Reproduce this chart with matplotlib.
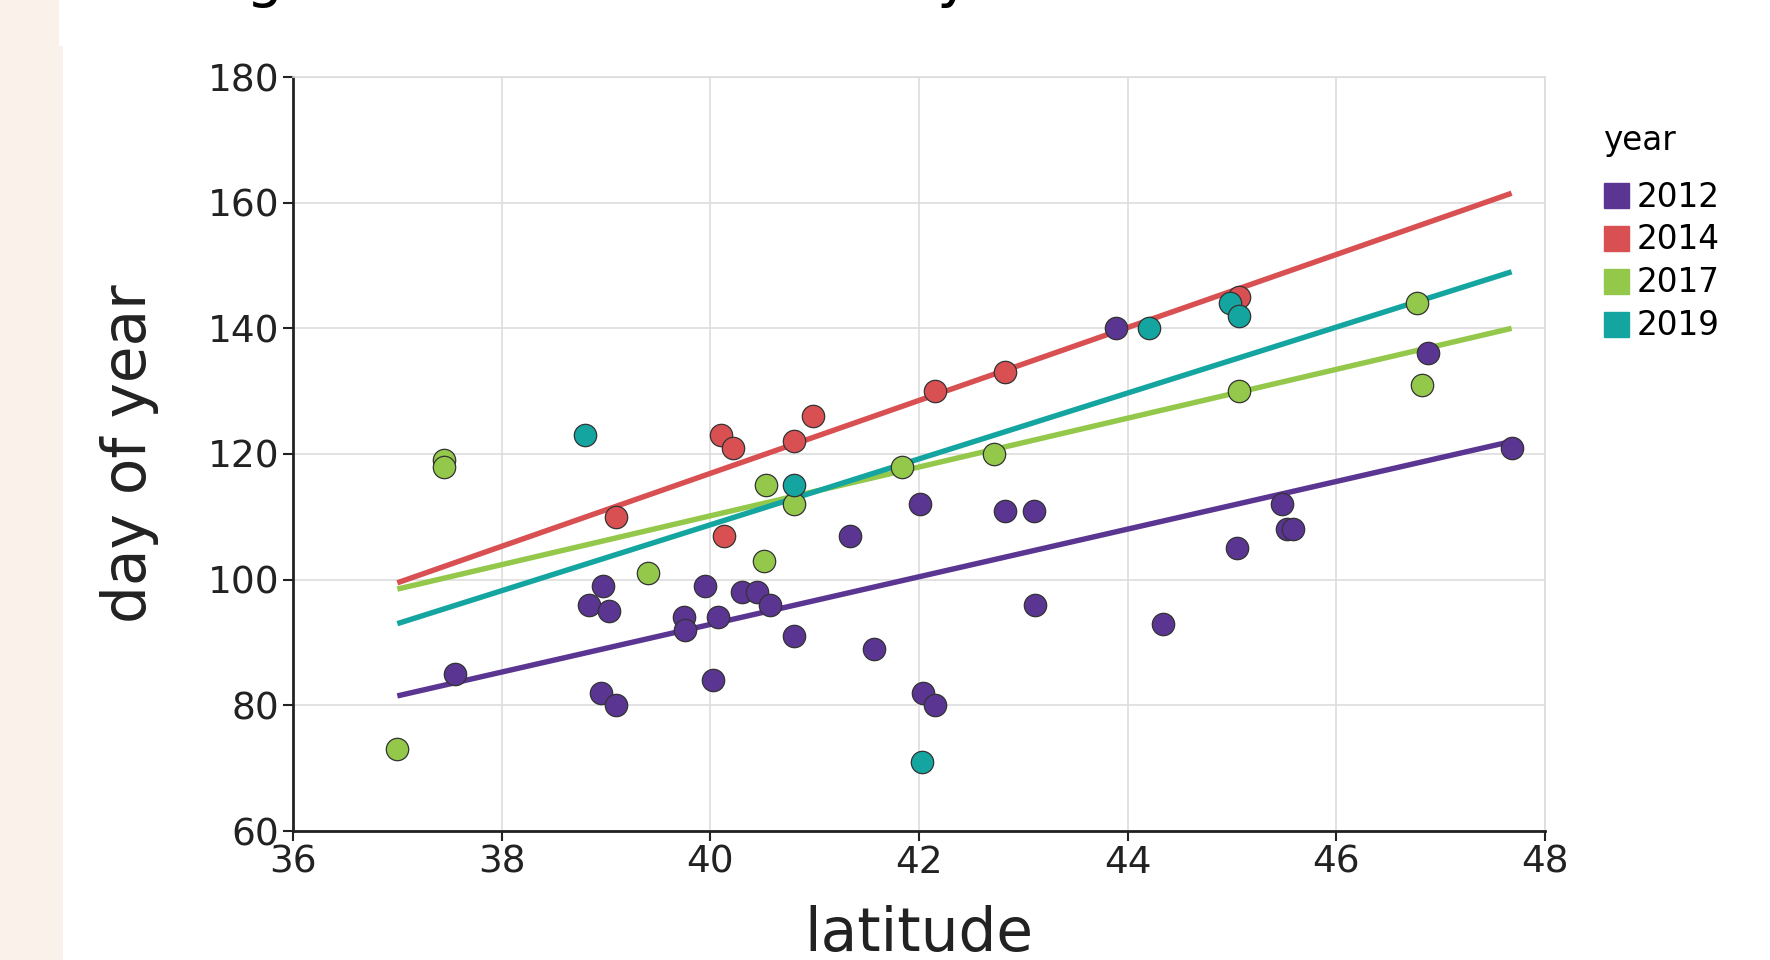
import matplotlib
matplotlib.use("Agg")
import matplotlib.pyplot as plt
from matplotlib.lines import Line2D
from matplotlib.patches import Rectangle

# ------------------------------
# Data
# ------------------------------
years = ["2012", "2014", "2017", "2019"]
colors = ["#5b3592", "#d95052", "#93c84b", "#15a5a0"]

lat_2012 = [37.55, 38.84, 38.97, 39.03, 38.95, 39.10, 39.75, 39.76, 39.95, 40.07,
            40.03, 40.30, 40.45, 40.57, 40.80, 41.34, 41.57, 42.01, 42.04, 42.15,
            42.82, 43.10, 43.11, 43.89, 44.34, 45.05, 45.48, 45.53, 45.58, 46.88, 47.68]
doy_2012 = [85, 96, 99, 95, 82, 80, 94, 92, 99, 94,
            84, 98, 98, 96, 91, 107, 89, 112, 82, 80,
            111, 111, 96, 140, 93, 105, 112, 108, 108, 136, 121]

lat_2014 = [39.10, 40.10, 40.22, 40.13, 40.80, 40.98, 42.15, 42.82, 45.07]
doy_2014 = [110, 123, 121, 107, 122, 126, 130, 133, 145]

lat_2017 = [37.00, 37.45, 37.45, 39.40, 40.53, 40.80, 40.51, 41.84, 42.72, 45.07, 46.77, 46.82]
doy_2017 = [73, 119, 118, 101, 115, 112, 103, 118, 120, 130, 144, 131]

lat_2019 = [38.80, 40.80, 42.03, 44.20, 44.98, 45.07]
doy_2019 = [123, 115, 71, 140, 144, 142]

# regression lines: value at the ends of the latitude range
fit_lat = [37.0, 47.68]
fit_2012 = [81.5, 122.0]
fit_2014 = [99.5, 161.5]
fit_2017 = [98.5, 140.0]
fit_2019 = [93.0, 149.0]

lats = [lat_2012, lat_2014, lat_2017, lat_2019]
doys = [doy_2012, doy_2014, doy_2017, doy_2019]
fits = [fit_2012, fit_2014, fit_2017, fit_2019]

x_ticks = [36, 38, 40, 42, 44, 46, 48]
y_ticks = [60, 80, 100, 120, 140, 160, 180]

# ------------------------------
# Figure
# ------------------------------
fig = plt.figure(figsize=(17.7, 9.6), dpi=100)
fig.patch.set_facecolor("white")

# beige strip on the left edge
fig.patches.append(Rectangle((0, 0), 63 / 1770, 1, transform=fig.transFigure,
                             facecolor="#faf1eb", edgecolor="none", zorder=0))
fig.patches.append(Rectangle((59 / 1770, 1 - 46 / 960), 4 / 1770, 46 / 960,
                             transform=fig.transFigure, facecolor="white",
                             edgecolor="none", zorder=0))

# title sits above the canvas, only descenders show
fig.text(60 / 1770, 1 + 4 / 960, "Nesting date across latitude by site",
         fontsize=42, color="black", ha="left", va="baseline")

ax = fig.add_axes([293 / 1770, 1 - 831 / 960, (1545 - 293) / 1770, (831 - 77) / 960])

for i in range(len(years)):
    ax.plot(fit_lat, fits[i], color=colors[i], lw=3.9, zorder=2,
            solid_capstyle="butt")

for i in range(len(years)):
    ax.scatter(lats[i], doys[i], s=260, color=colors[i], edgecolor="#333333",
               linewidth=0.9, zorder=3)

ax.set_xlim(36, 48)
ax.set_ylim(60, 180)
ax.set_xticks(x_ticks)
ax.set_yticks(y_ticks)
ax.grid(True, color="#dddddd", lw=1.2)
ax.set_axisbelow(True)

for side in ["top", "right"]:
    ax.spines[side].set_color("#dddddd")
    ax.spines[side].set_linewidth(1.2)
for side in ["left", "bottom"]:
    ax.spines[side].set_color("#222222")
    ax.spines[side].set_linewidth(2)

ax.tick_params(axis="both", labelsize=27, labelcolor="#222222", color="#222222",
               length=7, width=1.5, pad=3)

ax.set_xlabel("latitude", fontsize=43, color="#222222", labelpad=17)
ax.set_ylabel("day of year", fontsize=43, color="#222222", labelpad=35)

# ------------------------------
# Legend
# ------------------------------
handles = [Line2D([], [], marker="s", ls="none", markersize=18,
                  markerfacecolor=c, markeredgecolor=c) for c in colors]
leg = ax.legend(handles, years, title="year", loc="upper left",
                bbox_to_anchor=(1604 / 1770, 1 - 124 / 960),
                bbox_transform=fig.transFigure, frameon=False,
                fontsize=23.5, title_fontsize=23.5, alignment="left",
                handlelength=0.75, handletextpad=0.25, labelspacing=0.3,
                borderpad=0, borderaxespad=0)
leg._legend_box.sep = 17

fig.savefig("out.png", dpi=100)
